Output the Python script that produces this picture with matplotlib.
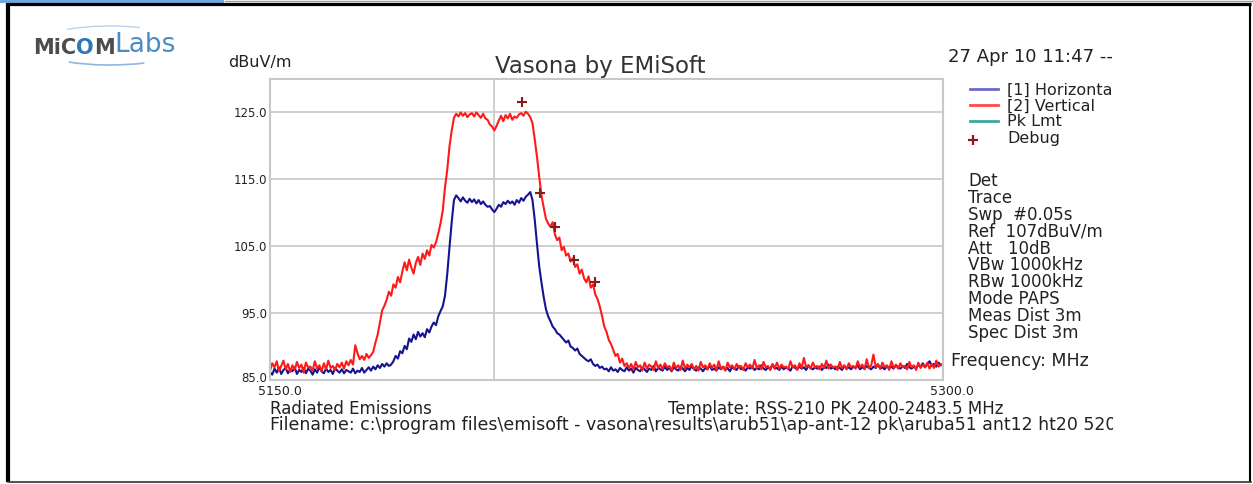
"""Radiated emissions scan 5150-5300 MHz, horizontal and vertical antenna traces."""

import numpy as np
import matplotlib
matplotlib.use("Agg")
import matplotlib.pyplot as plt
from matplotlib.patches import Arc, Rectangle
from matplotlib.transforms import ScaledTranslation

W, H = 1253, 484

# sweep points, 0.5 MHz apart
freq_mhz = np.arange(5150, 5300.5, 0.5)

# [1] Horizontal trace, dBuV/m (one row = 5 MHz)
horizontal = [
    86.2, 85.8, 86.7, 86.1, 86.9, 85.9, 86.5, 86.8, 86.0, 86.6,
    86.3, 86.9, 85.9, 86.5, 86.2, 86.8, 86.0, 86.7, 86.4, 85.8,
    86.6, 86.1, 86.9, 86.3, 86.0, 86.7, 86.2, 86.5, 85.9, 86.8,
    86.4, 86.1, 86.6, 86.0, 86.5, 86.3, 86.1, 86.7, 86.0, 86.4,
    86.2, 86.8, 86.1, 86.5, 86.9, 86.4, 87.0, 86.6, 87.2, 86.8,
    87.4, 87.0, 87.5, 87.1, 87.3, 87.8, 88.6, 88.2, 89.3, 89.0,
    90.1, 89.6, 91.2, 90.7, 91.8, 91.1, 92.2, 91.5, 92.0, 91.4,
    92.6, 92.1, 93.0, 93.6, 93.2, 94.5, 95.3, 96.0, 97.6, 100.8,
    104.8, 108.6, 111.9, 112.6, 112.2, 111.7, 112.3, 111.8, 111.5, 112.1,
    111.6, 112.0, 111.4, 111.9, 111.3, 111.7, 111.2, 110.9, 111.0, 110.5,
    110.1, 110.6, 111.2, 110.9, 111.6, 111.3, 111.8, 111.4, 111.7, 111.2,
    111.9, 111.5, 112.2, 111.8, 112.4, 112.7, 113.1, 111.9, 109.0, 105.4,
    102.0, 99.6, 97.4, 95.6, 94.5, 93.8, 93.0, 92.6, 92.0, 91.8,
    91.4, 91.0, 90.6, 90.9, 90.0, 89.8, 89.4, 89.7, 88.9, 88.6,
    88.3, 88.0, 87.8, 88.1, 87.4, 87.1, 87.3, 86.8, 87.0, 86.6,
    86.7, 86.3, 86.9, 86.4, 86.6, 86.2, 86.8, 86.5, 86.3, 86.9,
    86.4, 86.7, 86.1, 86.8, 86.5, 86.3, 86.9, 86.6, 86.2, 86.7,
    86.5, 87.1, 86.3, 86.8, 86.6, 86.4, 87.0, 86.5, 86.8, 86.3,
    86.9, 86.6, 86.4, 87.0, 86.7, 86.3, 86.8, 86.5, 87.1, 86.6,
    86.4, 86.9, 86.7, 86.3, 86.8, 86.6, 87.2, 86.5, 86.7, 86.4,
    86.9, 86.6, 87.0, 86.5, 86.8, 86.3, 86.9, 86.7, 86.5, 87.1,
    86.6, 86.8, 86.4, 86.9, 86.7, 87.0, 86.5, 86.8, 86.6, 87.2,
    86.7, 86.5, 86.9, 86.6, 87.3, 86.7, 86.8, 86.5, 87.0, 86.6,
    86.9, 86.7, 86.4, 87.1, 86.8, 86.6, 87.0, 86.7, 86.9, 86.5,
    87.2, 86.8, 86.6, 86.9, 86.7, 87.0, 86.5, 86.9, 86.8, 87.3,
    86.7, 86.9, 86.6, 87.0, 86.8, 86.5, 87.1, 86.7, 86.9, 86.6,
    87.0, 86.8, 87.2, 86.6, 86.9, 86.7, 87.1, 86.8, 86.6, 87.0,
    86.8, 87.3, 86.7, 86.9, 86.6, 87.1, 86.8, 87.0, 86.7, 87.2,
    86.9, 86.7, 87.1, 86.8, 87.4, 86.9, 86.7, 87.0, 86.8, 87.2,
    87.0, 87.5, 86.9, 87.3, 87.8, 87.1, 87.4, 87.0, 87.6, 87.2,
    87.3,
]

# [2] Vertical trace, dBuV/m (one row = 5 MHz)
vertical = [
    86.4, 87.5, 86.9, 87.8, 86.3, 87.1, 87.9, 86.6, 87.4, 86.2,
    87.2, 86.5, 87.7, 86.8, 87.3, 86.1, 87.6, 86.9, 87.0, 86.4,
    87.8, 86.7, 87.2, 86.3, 87.5, 86.6, 87.9, 86.8, 87.1, 86.5,
    87.4, 86.9, 87.6, 86.7, 87.8, 87.2, 88.0, 87.3, 90.2, 89.0,
    88.1, 88.6, 88.0, 88.9, 88.3, 88.7, 89.2, 90.6, 91.8, 93.6,
    95.4, 96.1, 97.0, 98.2, 97.6, 99.3, 98.8, 100.4, 99.6, 101.2,
    102.6, 101.4, 103.0, 101.8, 100.9, 102.5, 103.4, 102.2, 103.9, 103.1,
    104.4, 103.6, 105.2, 104.8, 105.6, 106.9, 108.4, 110.3, 113.8, 116.4,
    119.9, 122.3, 124.2, 124.8, 124.4, 125.0, 124.5, 124.9, 124.3, 124.7,
    124.9, 124.4, 125.0, 124.6, 124.2, 124.8, 124.1, 123.9, 123.2, 122.9,
    122.3, 123.0, 123.8, 124.5, 123.7, 124.6, 124.1, 124.8, 123.9, 124.4,
    124.2, 124.7, 124.9, 124.5, 125.1, 124.8, 124.3, 123.4, 121.0, 118.4,
    115.4, 112.6, 110.8, 109.1, 108.4, 107.9, 108.6, 106.8, 105.9, 106.3,
    104.4, 104.9, 103.6, 103.9, 102.7, 103.2, 101.9, 102.3, 100.9, 101.5,
    100.2, 99.6, 100.5, 98.8, 99.3, 97.8, 97.1, 96.0, 94.6, 93.0,
    92.2, 91.0, 90.4, 89.5, 88.6, 88.9, 87.6, 88.2, 87.1, 87.5,
    86.8, 87.4, 86.5, 87.7, 86.9, 87.2, 86.4, 87.6, 86.7, 87.3,
    87.0, 86.5, 87.8, 86.8, 87.3, 86.6, 87.5, 86.9, 87.1, 86.4,
    87.6, 86.8, 87.2, 86.5, 87.9, 86.7, 87.3, 86.9, 87.4, 86.6,
    87.1, 86.4, 87.7, 86.9, 87.2, 86.6, 87.5, 86.8, 87.3, 86.5,
    87.8, 86.7, 87.0, 86.4, 87.6, 86.9, 87.2, 86.6, 87.4, 86.8,
    87.1, 86.5, 87.5, 86.9, 87.3, 86.7, 88.0, 86.8, 87.2, 86.6,
    87.7, 86.9, 87.1, 86.5, 87.4, 86.8, 87.6, 86.7, 87.3, 86.9,
    87.0, 86.6, 87.8, 86.9, 87.2, 86.5, 87.5, 86.8, 88.3, 86.9,
    87.2, 86.7, 87.6, 86.9, 87.1, 86.6, 87.4, 86.8, 87.9, 86.7,
    87.3, 86.9, 87.0, 86.5, 87.7, 86.8, 87.2, 86.6, 87.5, 86.9,
    87.1, 86.7, 87.8, 86.9, 87.3, 86.6, 88.1, 86.8, 87.2, 88.8,
    86.9, 87.4, 86.7, 87.6, 86.9, 87.2, 86.5, 87.8, 86.8, 87.3,
    86.7, 87.5, 86.9, 87.1, 86.6, 87.7, 86.9, 87.2, 86.5, 87.6,
    86.8, 87.3, 86.9, 87.6, 86.7, 87.4, 86.8, 87.9, 87.0, 87.4,
    87.2,
]

# peak markers ("Debug")
debug_freq = [5206.2, 5210.1, 5213.6, 5217.7, 5222.5]
debug_level = [126.6, 112.9, 107.8, 103.0, 99.7]

y_ticks = [85, 95, 105, 115, 125]
y_labels = ["85.0", "95.0", "105.0", "115.0", "125.0"]

legend_names = ["[1] Horizontal", "[2] Vertical", "Pk Lmt", "Debug"]
legend_colors = ["#6a6ac8", "#ff4a4a", "#3aa8a0", "#8b1a1a"]

settings = [
    "Det",
    "Trace",
    "Swp  #0.05s",
    "Ref  107dBuV/m",
    "Att   10dB",
    "VBw 1000kHz",
    "RBw 1000kHz",
    "Mode PAPS",
    "Meas Dist 3m",
    "Spec Dist 3m",
]

TXT = "#222222"

fig = plt.figure(figsize=(W / 100, H / 100), dpi=100)
fig.patch.set_facecolor("white")

# full-figure layer in pixel coordinates for frame, logo and annotations
deco = fig.add_axes([0, 0, 1, 1])
deco.set_xlim(0, W)
deco.set_ylim(H, 0)
deco.axis("off")

# text past the right edge of the report panel is cut off
clip = Rectangle((0, 0), 1113, H, transform=deco.transData)


def label(x, y, s, size, clipped=False, **kw):
    t = deco.text(x, y, s, fontsize=size, color=kw.pop("color", TXT),
                  ha=kw.pop("ha", "left"), va="center", **kw)
    if clipped:
        t.set_clip_on(True)
        t.set_clip_path(clip)
    return t


# page frame
deco.add_patch(Rectangle((0, 0), 224, 2.5, color="#6fa8dc", lw=0))
deco.plot([225, W], [0.6, 0.6], color="#9a9a9a", lw=1.0)
deco.plot([7, 1251], [4, 4], color="black", lw=2.3, solid_capstyle="butt")
deco.plot([8, 8], [3, 482], color="black", lw=3.0, solid_capstyle="butt")
deco.plot([1250, 1250], [3, 482], color="black", lw=1.5, solid_capstyle="butt")
deco.plot([8, 1251], [481.5, 481.5], color="#333333", lw=1.2)

# logo
t1 = deco.text(33, 54, "MiC", fontsize=15, fontweight="bold", color="#4d4d4d",
               ha="left", va="baseline")
t2 = deco.annotate("O", xy=(1, 0), xycoords=t1, fontsize=15, fontweight="bold",
                   color="#2f78b8", ha="left", va="bottom")
t3 = deco.annotate("M", xy=(1, 0), xycoords=t2, fontsize=15, fontweight="bold",
                   color="#4d4d4d", ha="left", va="bottom")
deco.annotate("Labs", xy=(1, 0), xycoords=t3, fontsize=19, color="#4a8cc4",
              ha="left", va="bottom")
deco.add_patch(Arc((110, 47), 150, 36, theta1=25, theta2=160, color="#8db8dc", lw=1.2))
deco.add_patch(Arc((110, 45), 150, 38, theta1=200, theta2=330, color="#b9d3ea", lw=1.0))

# chart area
ax = fig.add_axes([270 / W, 1 - 380 / H, 673 / W, 301 / H])
ax.set_zorder(2)
ax.plot(freq_mhz, horizontal, color="#14148f", lw=1.5)
ax.plot(freq_mhz, vertical, color="#ff1a1a", lw=1.5)
ax.plot(debug_freq, debug_level, "+", color="#8b1a1a", ms=7, mew=1.5, clip_on=False)

ax.set_xlim(5150, 5300)
ax.set_ylim(85, 130)
ax.set_yticks(y_ticks)
ax.set_yticklabels(y_labels, fontsize=8.5, color=TXT)
ax.set_xticks([5150, 5200, 5300])
ax.set_xticklabels([])
ax.tick_params(length=0, pad=2)
ax.grid(True, color="#cccccc", lw=1.3)
ax.set_axisbelow(True)
for s in ax.spines.values():
    s.set_color("#c8c8c8")
    s.set_linewidth(1.5)

# bottom value label sits a little above its grid line
lift = ScaledTranslation(0, 3 / 100, fig.dpi_scale_trans)
bottom_lbl = ax.get_yticklabels()[0]
bottom_lbl.set_transform(bottom_lbl.get_transform() + lift)

# headings
label(600, 66, "Vasona by EMiSoft", 16.5, color="#333333", ha="center")
label(228, 62, "dBuV/m", 11.5)
label(948, 57, "27 Apr 10 11:47 --", 13)

# legend
legend_y = [90, 106, 122, 138]
for name, col, y in zip(legend_names, legend_colors, legend_y):
    if name == "Debug":
        deco.plot([973], [y + 2], "+", color=col, ms=7, mew=1.6)
    else:
        deco.plot([970, 998], [y - 1, y - 1], color=col, lw=2)
    label(1007, y, name, 11.5, clipped=True)

# instrument settings
for i, line in enumerate(settings):
    label(968, 181 + i * 16.9, line, 12, clipped=True)

label(951, 361, "Frequency: MHz", 12.5)
label(258, 391.5, "5150.0", 9)
label(930, 391.5, "5300.0", 9)

label(270, 409, "Radiated Emissions", 12)
label(668, 409, "Template: RSS-210 PK 2400-2483.5 MHz", 12)
label(270, 425.5,
      "Filename: c:\\program files\\emisoft - vasona\\results\\arub51\\ap-ant-12 pk"
      "\\aruba51 ant12 ht20 5200", 12.5, clipped=True)

fig.savefig("out.png", dpi=100, facecolor="white")
